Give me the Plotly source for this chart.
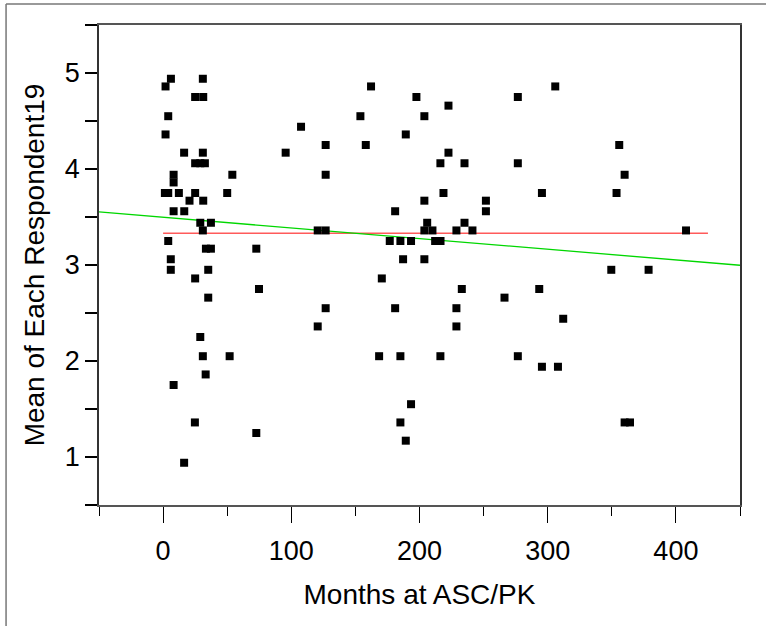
import plotly.graph_objects as go

# ---- data ----
months = [
    6.1, 1.9, 31, 25, 31.3, 4, 1.9, 16.4, 31, 25, 29, 32.6, 8.2, 54, 8.2, 1.4, 4, 12.3, 25, 50,
    20.6, 31.3, 8.2, 16.5, 29, 37.3, 31, 4, 33.4, 37.3, 6, 6, 35.2, 25, 35.2, 29, 31, 51.9, 33.2,
    8.2, 24.8, 16.4,
    107.6, 126.8, 95.6, 126.8, 120.6, 126.8, 72.7, 74.8, 126.8, 120.6, 72.7,
    162.2, 197.6, 222.6, 153.9, 203.8, 189.3, 158.1, 222.6, 216.3, 235.1, 218.7, 203.8, 251.8,
    181, 251.8, 206, 235.1, 203.8, 210.1, 228.8, 241.3, 176.8, 185.1, 193.4, 212.2, 216.4,
    187.2, 203.8, 170.6, 233, 181, 228.8, 228.8, 168.5, 185.1, 216.3, 193.4, 185.1, 189.3,
    305.9, 276.7, 276.7, 295.5, 266.3, 293.4, 312.1, 276.7, 295.5, 308, 355.8, 360, 353.7,
    407.9, 349.6, 378.7, 360, 364.2,
]
mean_resp = [
    4.94, 4.86, 4.94, 4.75, 4.75, 4.55, 4.36, 4.17, 4.17, 4.06, 4.06, 4.06, 3.94, 3.94, 3.86, 3.75, 3.75, 3.75, 3.75, 3.75,
    3.67, 3.67, 3.56, 3.56, 3.44, 3.44, 3.36, 3.25, 3.17, 3.17, 3.06, 2.95, 2.95, 2.86, 2.66, 2.25, 2.05, 2.05, 1.86,
    1.75, 1.36, 0.94,
    4.44, 4.25, 4.17, 3.94, 3.36, 3.36, 3.17, 2.75, 2.55, 2.36, 1.25,
    4.86, 4.75, 4.66, 4.55, 4.55, 4.36, 4.25, 4.17, 4.06, 4.06, 3.75, 3.67, 3.67,
    3.56, 3.56, 3.44, 3.44, 3.36, 3.36, 3.36, 3.36, 3.25, 3.25, 3.25, 3.25, 3.25,
    3.06, 3.06, 2.86, 2.75, 2.55, 2.55, 2.36, 2.05, 2.05, 2.05, 1.55, 1.36, 1.17,
    4.86, 4.75, 4.06, 3.75, 2.66, 2.75, 2.44, 2.05, 1.94, 1.94, 4.25, 3.94, 3.75,
    3.36, 2.95, 2.95, 1.36, 1.36,
]

mean_value = 3.33            # fitted mean (red line)
mean_span = [0, 425]         # x extent of the mean line
fit_intercept = 3.497        # linear fit (green line)
fit_slope = -0.00111
fit_span = [-50, 450]

x_range = [-50, 450]
y_range = [0.5, 5.5]
x_tickvals = [0, 100, 200, 300, 400]
x_ticktext = ["0", "100", "200", "300", "400"]
y_tickvals = [0.5, 1, 1.5, 2, 2.5, 3, 3.5, 4, 4.5, 5, 5.5]
y_ticktext = ["", "1", "", "2", "", "3", "", "4", "", "5", ""]

x_title = "Months at ASC/PK"
y_title = "Mean of Each Respondent19"

FONT = "Liberation Sans, Arial, sans-serif"

fig = go.Figure()

fig.add_trace(go.Scatter(
    x=mean_span, y=[mean_value, mean_value], mode="lines",
    line=dict(color="rgb(255,90,90)", width=1.4), hoverinfo="skip", showlegend=False,
))
fig.add_trace(go.Scatter(
    x=fit_span, y=[fit_intercept + fit_slope * v for v in fit_span], mode="lines",
    line=dict(color="rgb(0,215,0)", width=1.3), hoverinfo="skip", showlegend=False,
    cliponaxis=False,
))
fig.add_trace(go.Scatter(
    x=months, y=mean_resp, mode="markers",
    marker=dict(symbol="square", size=8, color="black", line=dict(width=0)),
    showlegend=False,
))

fig.update_layout(
    width=766, height=626,
    margin=dict(l=99, r=26, t=25, b=121),
    paper_bgcolor="white", plot_bgcolor="white",
    font=dict(family=FONT, color="black"),
    showlegend=False,
    xaxis=dict(
        range=x_range, tickmode="array", tickvals=x_tickvals, ticktext=x_ticktext,
        ticks="outside", ticklen=16, tickwidth=1, tickcolor="black",
        minor=dict(dtick=50, tick0=0, ticks="outside", ticklen=9, tickwidth=1, tickcolor="black", showgrid=False),
        showgrid=False, zeroline=False,
        showline=True, linecolor="#555", linewidth=1.5, mirror=True,
        tickfont=dict(size=27, family=FONT),
        title=dict(text=x_title, font=dict(size=28, family=FONT), standoff=19),
        ticklabelstandoff=5,
    ),
    yaxis=dict(
        range=y_range, tickmode="array", tickvals=y_tickvals, ticktext=y_ticktext,
        ticks="outside", ticklen=12, tickwidth=1.5, tickcolor="black",
        showgrid=False, zeroline=False,
        showline=True, linecolor="#333", linewidth=1.5, mirror=True,
        tickfont=dict(size=27, family=FONT),
        title=dict(text=y_title, font=dict(size=28, family=FONT), standoff=12),
    ),
    shapes=[
        dict(type="line", xref="paper", yref="paper", x0=-0.145, x1=1.05, y0=1.0435, y1=1.0435,
             line=dict(color="#777", width=1.5)),
        dict(type="line", xref="paper", yref="paper", x0=-0.145, x1=-0.145, y0=1.0435, y1=-0.26,
             line=dict(color="#777", width=1.5)),
    ],
)

fig.write_html("out.html")
